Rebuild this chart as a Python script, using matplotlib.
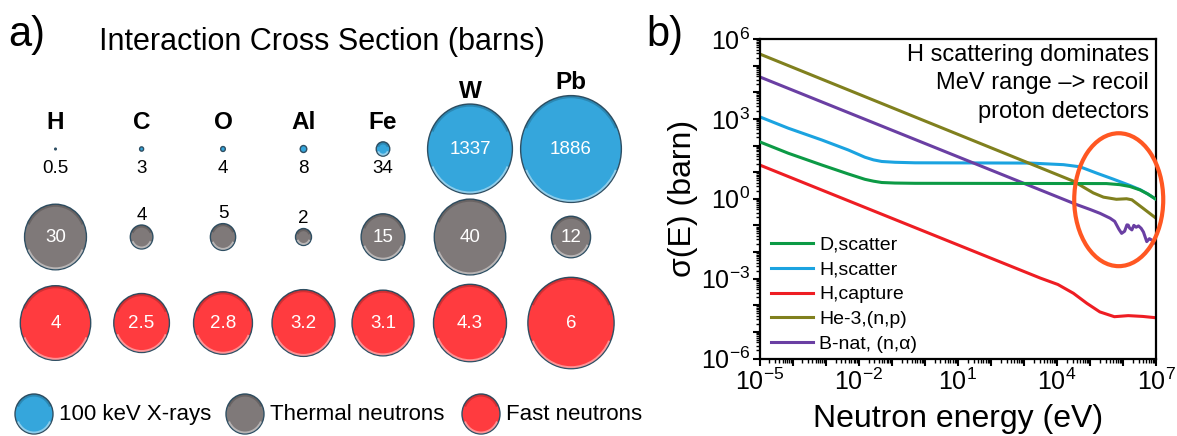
import numpy as np
import matplotlib
matplotlib.use("Agg")
import matplotlib.pyplot as plt
from matplotlib.patches import Ellipse, Arc
from matplotlib.ticker import LogLocator, FuncFormatter, NullFormatter

plt.rcParams['font.family'] = ['Liberation Sans', 'DejaVu Sans']
plt.rcParams['mathtext.default'] = 'regular'

# ---- panel a: interaction cross sections (barns)
elements = ["H", "C", "O", "Al", "Fe", "W", "Pb"]
xray_barns = [0.5, 3, 4, 8, 34, 1337, 1886]
thermal_barns = [30, 4, 5, 2, 15, 40, 12]
fast_barns = [4, 2.5, 2.8, 3.2, 3.1, 4.3, 6]
row_names = ["100 keV X-rays", "Thermal neutrons", "Fast neutrons"]

# ---- panel b: log10(E/eV), log10(sigma/barn)
d_scat_logE = [-5, -4.13, -3.12, -2.31, -1.81, -1.55, -1.30, -0.9, -0.29, 5.5, 5.9, 6.21, 6.52, 6.75, 7.0]
d_scat_logS = [2.14, 1.71, 1.27, 0.93, 0.73, 0.66, 0.61, 0.59, 0.58, 0.57, 0.53, 0.46, 0.33, 0.18, -0.02]

h_scat_logE = [-5, -4.13, -3.12, -2.31, -1.81, -1.55, -1.30, -0.9, -0.29, 3.19, 4.2, 4.7, 5.21, 5.7, 6.21, 6.52, 6.75, 7.0]
h_scat_logS = [3.08, 2.65, 2.21, 1.83, 1.56, 1.46, 1.40, 1.37, 1.35, 1.34, 1.28, 1.20, 0.96, 0.74, 0.50, 0.34, 0.18, -0.02]

h_cap_logE = [-5, 3.5, 4.03, 4.5, 4.91, 5.3, 5.74, 6.16, 6.6, 7.0]
h_cap_logS = [1.27, -2.98, -3.22, -3.55, -3.93, -4.25, -4.43, -4.39, -4.42, -4.47]

he3_logE = [-5, 4.5, 4.8, 5.1, 5.41, 5.8, 6.11, 6.27, 6.6, 7.0]
he3_logS = [5.44, 0.66, 0.44, 0.22, 0.06, -0.02, 0.0, -0.04, -0.35, -0.73]

b_logE = [-5, 4.6, 5.0, 5.31, 5.61, 5.75, 5.88, 5.96, 6.05, 6.12, 6.16, 6.2, 6.27,
          6.33, 6.40, 6.47, 6.55, 6.62, 6.72, 6.8, 6.87, 6.97, 7.0]
b_logS = [4.58, -0.22, -0.4, -0.55, -0.73, -0.85, -1.15, -1.30, -1.22, -0.98, -0.99, -1.1, -1.17,
          -1.0, -1.07, -1.02, -1.11, -1.25, -1.61, -1.5, -1.55, -1.67, -1.55]

curve_names = ["D,scatter", "H,scatter", "H,capture", "He-3,(n,p)", "B-nat, (n,\u03b1)"]

W, H = 1177, 436
fig = plt.figure(figsize=(W / 100, H / 100), dpi=100)

# ================= panel a =================
axa = fig.add_axes([0, 0, 640 / W, 1])
axa.set_xlim(0, 640)
axa.set_ylim(H, 0)
axa.axis('off')

col_x = [55.5, 141.6, 223, 303.5, 383, 470, 571]
row_style = [  # colour, radius scale, row centre
    ('#35A6DC', 1.16, 149),
    ('#7F7979', 5.65, 237),
    ('#FF3B3F', 17.6, 323),
]
stretch = 1.06
edge = '#2F4F63'


def bubble(x, y, w, h, col):
    axa.add_patch(Ellipse((x, y), w, h, fc=col, ec=edge, lw=1.0))
    if w > 12:
        # soft bevel: light rim on top, darker rim at bottom
        axa.add_patch(Arc((x, y), w - 3, h - 3, theta1=25, theta2=155,
                          color='white', alpha=0.45, lw=1.4))
        axa.add_patch(Arc((x, y), w - 3, h - 3, theta1=205, theta2=335,
                          color='black', alpha=0.18, lw=1.6))


rows = [xray_barns, thermal_barns, fast_barns]
for r_i, (vals, (col, k, yc)) in enumerate(zip(rows, row_style)):
    for j, v in enumerate(vals):
        r = k * np.sqrt(v)
        bubble(col_x[j], yc, 2 * r, 2 * r * stretch, col)
        lab = f"{v:g}"
        if r_i == 0 and v < 100:
            axa.text(col_x[j], yc + 19, lab, color='black', fontsize=13.5, ha='center', va='center')
        elif r_i == 1 and r < 14:
            axa.text(col_x[j], yc - r * stretch - 10, lab, color='black', fontsize=13.5,
                     ha='center', va='center')
        else:
            axa.text(col_x[j], yc, lab, color='white', fontsize=13.5, ha='center', va='center')

# element names above the x-ray row
for j, el in enumerate(elements):
    top = row_style[0][2] - row_style[0][1] * np.sqrt(xray_barns[j]) * stretch
    axa.text(col_x[j], min(122, top - 13), el, fontsize=17.5, fontweight='bold',
             ha='center', va='center')

axa.text(321.5, 42, "Interaction Cross Section (barns)", fontsize=22, ha='center', va='center')

# bottom legend
leg_x = [34, 245, 481]
for (col, k, yc), name, lx in zip(row_style, row_names, leg_x):
    bubble(lx, 414, 38, 40, col)
    axa.text(lx + 25, 414, name, fontsize=16, ha='left', va='center')

fig.text(8 / W, 1 - 46 / H, "a)", fontsize=30, va='baseline', ha='left')
fig.text(646 / W, 1 - 46 / H, "b)", fontsize=30, va='baseline', ha='left')

# ================= panel b =================
axb = fig.add_axes([759.5 / W, (H - 358.5) / H, 396.5 / W, 319.5 / H])
curves = [
    (h_scat_logE, h_scat_logS, '#1BA3E0', 1, 2),
    (h_cap_logE, h_cap_logS, '#EE1D23', 2, 2),
    (he3_logE, he3_logS, '#80801E', 3, 2),
    (b_logE, b_logS, '#6A3FA3', 4, 2),
    (d_scat_logE, d_scat_logS, '#0C9A45', 0, 3),
]
handles = [None] * 5
for le, ls, col, idx, z in curves:
    ln, = axb.plot(10 ** np.array(le), 10 ** np.array(ls), color=col, lw=2.2,
                   zorder=z, label=curve_names[idx], solid_joinstyle='round')
    handles[idx] = ln

axb.set_xscale('log')
axb.set_yscale('log')
axb.set_xlim(1e-5, 1e7)
axb.set_ylim(1e-6, 1e6)


def fmt_y(v, pos):
    e = int(round(np.log10(v)))
    return r'$\mathregular{10^{%d}}$' % e if e % 3 == 0 else ''


def fmt_x(v, pos):
    e = int(round(np.log10(v)))
    return r'$\mathregular{10^{%d}}$' % e if (e + 5) % 3 == 0 else ''


for axis, f in ((axb.xaxis, fmt_x), (axb.yaxis, fmt_y)):
    axis.set_major_locator(LogLocator(base=10, numticks=30))
    axis.set_minor_locator(LogLocator(base=10, subs=np.arange(2, 10), numticks=30))
    axis.set_major_formatter(FuncFormatter(f))
    axis.set_minor_formatter(NullFormatter())

axb.tick_params(which='major', direction='out', length=5, width=1.5, labelsize=18, pad=2)
axb.tick_params(which='minor', direction='out', length=3, width=1.0)
axb.tick_params(top=False, right=False, which='both')
for s in axb.spines.values():
    s.set_linewidth(1.6)

axb.set_xlabel("Neutron energy (eV)", fontsize=23, labelpad=7)
axb.set_ylabel("\u03c3(E) (barn)", fontsize=23, labelpad=2)

axb.text(0.982, 0.985, "H scattering dominates\nMeV range \u2013> recoil\nproton detectors",
         transform=axb.transAxes, ha='right', va='top', fontsize=17, linespacing=1.38)

axb.add_patch(Ellipse((0.906, 0.497), 0.2245, 0.416, transform=axb.transAxes,
                      fill=False, ec='#FF5722', lw=3, clip_on=False, zorder=5))

axb.legend(handles=handles, loc='lower left', bbox_to_anchor=(0.028, 0.017),
           frameon=False, fontsize=14, handlelength=2.2, handletextpad=0.3,
           labelspacing=0.37, borderpad=0, borderaxespad=0)

fig.savefig("out.png", dpi=100)
